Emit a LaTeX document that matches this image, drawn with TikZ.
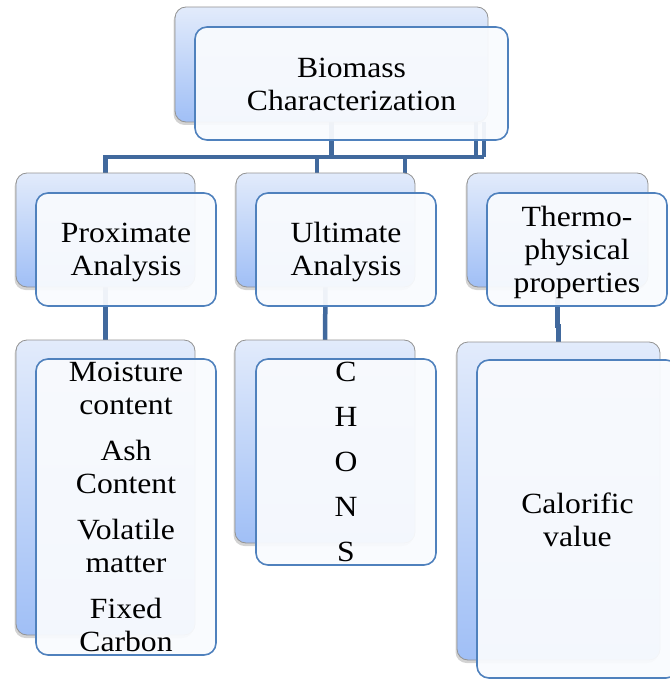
\documentclass[tikz,border=0pt]{standalone}
\usepackage{fontspec}
\setmainfont{Liberation Serif}[FakeStretch=1.08]
\usetikzlibrary{shadows}
\definecolor{conncol}{HTML}{41699D}
\definecolor{frontline}{HTML}{4F81BD}
\definecolor{backtop}{HTML}{E2EBFB}
\definecolor{backbot}{HTML}{A0BFF6}
\definecolor{frontfill}{HTML}{F9FBFE}
\pgfdeclarelayer{bg}
\pgfsetlayers{bg,main}
\newcommand\lowertext[2]{\raisebox{#1}[\height][\depth]{\begin{tabular}{@{}c@{}}#2\end{tabular}}}
\begin{document}
\begin{tikzpicture}[x=1pt,y=-1pt,
  backbox/.style={draw=gray!85, line width=0.8pt, rounded corners=11pt,
    top color=backtop, bottom color=backbot, anchor=north west,
    inner sep=0pt, outer sep=0pt,
    drop shadow={shadow xshift=-1.5pt, shadow yshift=-3pt, opacity=0.35}},
  frontbox/.style={draw=frontline, line width=1.6pt, rounded corners=12pt,
    fill=frontfill, fill opacity=0.94, text opacity=1, anchor=north west,
    inner sep=0pt, outer sep=0pt, align=center,
    font=\fontsize{29.3}{33}\selectfont},
  conn/.style={draw=conncol, line width=4.5pt}]
\useasboundingbox (0,0) rectangle (669,679);

% level 1
\node[backbox, minimum width=313pt, minimum height=115pt] (tb) at (175,7) {};
\node[frontbox, minimum width=313pt, minimum height=113pt] (tf) at (195,27) {\lowertext{-4pt}{Biomass\\Characterization}};

% level 2
\node[backbox, minimum width=179pt, minimum height=114pt] (pb) at (16,173) {};
\node[frontbox, minimum width=180pt, minimum height=113pt] (pf) at (36,193) {\lowertext{-3pt}{Proximate\\Analysis}};
\node[backbox, minimum width=179pt, minimum height=114pt] (ub) at (236,173) {};
\node[frontbox, minimum width=180pt, minimum height=113pt] (uf) at (256,193) {\lowertext{-3pt}{Ultimate\\Analysis}};
\node[backbox, minimum width=181pt, minimum height=114pt] (hb) at (467,173) {};
\node[frontbox, minimum width=180pt, minimum height=113pt] (hf) at (487,193) {\lowertext{-3pt}{Thermo-\\physical\\properties}};

% level 3
\node[backbox, minimum width=179pt, minimum height=295pt] (pb3) at (16,340) {};
\node[frontbox, minimum width=180pt, minimum height=296pt] (pf3) at (36,359)
  {Moisture\\content\\[13pt]Ash\\Content\\[13pt]Volatile\\matter\\[13pt]Fixed\\Carbon};
\node[backbox, minimum width=180pt, minimum height=203pt] (ub3) at (235,340) {};
\node[frontbox, minimum width=180pt, minimum height=206pt] (uf3) at (256,359)
  {C\\[12pt]H\\[12pt]O\\[12pt]N\\[12pt]S};
\node[backbox, minimum width=203pt, minimum height=318pt] (hb3) at (457,342) {};
\node[frontbox, minimum width=201pt, minimum height=318pt] (hf3) at (477,360) {\lowertext{-4pt}{Calorific\\value}};

% connectors
\coordinate (bar) at (0,157);
\coordinate (xa) at (476,0);
\coordinate (xb) at (484,0);
\coordinate (xc) at (317,0);
\coordinate (xd) at (405,0);
\coordinate (jog) at (0,326);
\begin{pgfonlayer}{bg}
\draw[conn] (tb.south) -- (tb.south |- bar);
\draw[conn] (tb.south -| xa) -- (xa |- bar);
\draw[conn] (tb.south -| xb) -- (xb |- bar);
\draw[conn, line join=miter] (pb.north) -- (pb.north |- bar) -- (xb |- bar);
\draw[conn] (ub.north -| xc) -- (xc |- bar);
\draw[conn] (ub.north -| xd) -- (xd |- bar);
\draw[conn] (pb.south) -- (pb3.north);
\draw[conn] (ub.south) -- (ub3.north);
\draw[conn] (hb.south) -- (hb.south |- jog) -- (hb3.north |- jog) -- (hb3.north);
\end{pgfonlayer}
\end{tikzpicture}
\end{document}
